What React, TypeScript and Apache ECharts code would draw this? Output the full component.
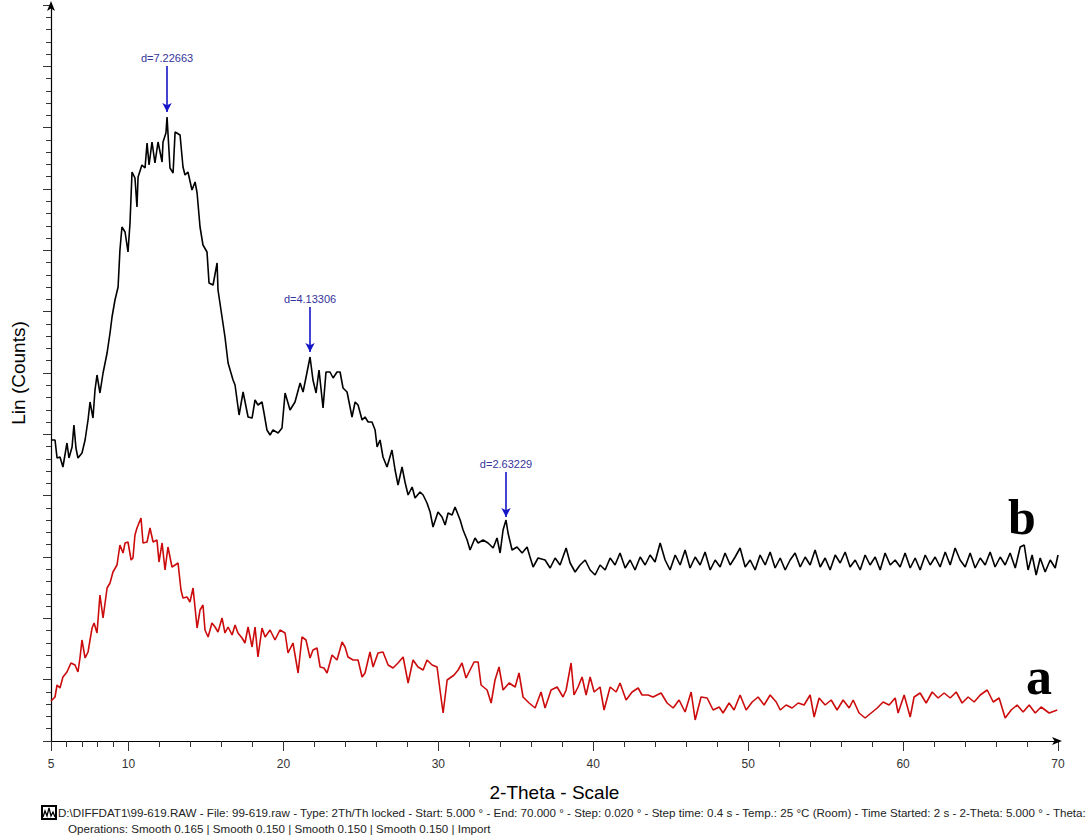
import React, { useEffect, useRef } from "react";
import * as echarts from "echarts";

// 2-Theta tick labels and tick positions
const xLabelValues = [5, 10, 20, 30, 40, 50, 60, 70];
const xMajorTicks = [5, 10, 20, 30, 40, 50, 60, 70];
const xMinorTicks = [6, 7, 8, 9, 12, 14, 16, 18, 22, 24, 26, 28, 32, 34, 36, 38, 42, 44, 46, 48, 52, 54, 56, 58, 62, 64, 66, 68];

// sample b (black) : [2-theta, counts]
const seriesB: [number, number][] = [
  [5.0, 602], [5.26, 602], [5.39, 566], [5.58, 568], [5.77, 548], [6.03, 596], [6.16, 566], [6.36, 588], [6.48, 632],
  [6.61, 586], [6.74, 566], [7.0, 576], [7.2, 602], [7.39, 642], [7.52, 678], [7.71, 646], [7.84, 702],
  [7.97, 732], [8.16, 696], [8.36, 736], [8.62, 776], [8.81, 816], [8.94, 848], [9.13, 882], [9.33, 908],
  [9.45, 982], [9.58, 1028], [9.78, 1018], [9.97, 978], [10.1, 1036], [10.23, 1138], [10.42, 1126],
  [10.55, 1068], [10.62, 1128], [10.87, 1152], [11.07, 1146], [11.2, 1196], [11.33, 1152], [11.52, 1198],
  [11.71, 1156], [11.91, 1198], [12.17, 1158], [12.23, 1198], [12.42, 1216], [12.49, 1248], [12.68, 1146],
  [12.88, 1136], [13.01, 1218], [13.33, 1212], [13.52, 1148], [13.65, 1132], [13.84, 1138], [14.1, 1102],
  [14.3, 1118], [14.43, 1096], [14.62, 1028], [14.81, 992], [15.07, 978], [15.2, 916], [15.46, 912],
  [15.72, 956], [15.78, 902], [16.04, 848], [16.23, 808], [16.43, 756], [16.75, 722], [16.88, 712],
  [17.14, 652], [17.4, 698], [17.72, 648], [17.98, 646], [18.17, 682], [18.36, 672], [18.62, 678],
  [18.75, 656], [18.94, 622], [19.14, 612], [19.33, 622], [19.66, 616], [19.91, 626], [20.11, 696],
  [20.43, 662], [20.75, 678], [21.08, 716], [21.27, 698], [21.53, 738], [21.72, 768], [21.91, 722],
  [22.11, 696], [22.3, 742], [22.56, 666], [22.75, 738], [23.01, 738], [23.21, 726], [23.46, 738],
  [23.66, 738], [23.85, 706], [24.11, 698], [24.43, 648], [24.63, 678], [24.82, 672], [25.08, 642],
  [25.27, 648], [25.47, 638], [25.72, 638], [25.92, 622], [26.05, 588], [26.24, 602], [26.43, 568],
  [26.69, 548], [27.01, 582], [27.21, 542], [27.4, 512], [27.66, 548], [27.85, 518], [28.05, 492],
  [28.31, 508], [28.5, 486], [28.82, 498], [29.02, 492], [29.27, 476], [29.47, 458], [29.66, 428],
  [29.98, 458], [30.24, 448], [30.44, 432], [30.63, 456], [30.89, 452], [31.08, 468], [31.41, 442],
  [31.6, 422], [31.86, 402], [32.05, 382], [32.37, 406], [32.57, 396], [32.89, 402], [33.21, 396],
  [33.54, 386], [33.79, 406], [33.99, 376], [34.18, 422], [34.37, 442], [34.5, 416], [34.76, 382],
  [35.08, 388], [35.41, 376], [35.73, 388], [35.92, 368], [36.12, 348], [36.44, 366], [36.89, 362],
  [37.22, 346], [37.54, 366], [37.86, 352], [38.25, 386], [38.51, 356], [38.83, 338], [39.15, 352],
  [39.48, 362], [39.8, 342], [40.12, 332], [40.44, 352], [40.77, 342], [41.09, 366], [41.41, 352],
  [41.73, 376], [42.06, 346], [42.38, 362], [42.7, 342], [43.03, 368], [43.35, 352], [43.67, 372],
  [43.99, 358], [44.32, 396], [44.64, 362], [44.96, 342], [45.29, 372], [45.61, 352], [45.93, 382],
  [46.25, 346], [46.58, 368], [46.9, 352], [47.22, 378], [47.55, 342], [47.87, 362], [48.19, 348],
  [48.51, 376], [48.84, 352], [49.16, 368], [49.48, 386], [49.81, 348], [50.13, 362], [50.45, 342],
  [50.77, 372], [51.1, 352], [51.42, 378], [51.74, 346], [52.07, 366], [52.39, 342], [52.71, 362],
  [53.03, 376], [53.36, 348], [53.68, 368], [54.0, 352], [54.32, 382], [54.65, 348], [54.97, 366],
  [55.29, 342], [55.62, 372], [55.94, 356], [56.26, 378], [56.58, 348], [56.91, 362], [57.23, 342],
  [57.55, 372], [57.87, 352], [58.2, 368], [58.52, 342], [58.84, 376], [59.17, 352], [59.49, 362],
  [59.81, 348], [60.13, 376], [60.46, 346], [60.78, 366], [61.1, 342], [61.43, 372], [61.75, 352],
  [62.07, 368], [62.39, 348], [62.72, 378], [63.04, 352], [63.36, 386], [63.68, 362], [64.01, 348],
  [64.33, 376], [64.65, 346], [64.98, 366], [65.3, 352], [65.62, 378], [65.94, 348], [66.27, 368],
  [66.59, 352], [66.91, 376], [67.24, 346], [67.56, 388], [67.82, 392], [68.07, 342], [68.33, 372],
  [68.59, 332], [68.85, 366], [69.17, 338], [69.5, 362], [69.82, 346], [70.0, 372],
];

// sample a (red) : [2-theta, counts]
const seriesA: [number, number][] = [
  [5.0, 80], [5.26, 88], [5.39, 112], [5.58, 106], [5.77, 128], [6.03, 138], [6.29, 156], [6.55, 152], [6.74, 138],
  [6.87, 166], [7.0, 202], [7.2, 166], [7.39, 178], [7.65, 226], [7.78, 236], [7.97, 216], [8.16, 292],
  [8.36, 246], [8.62, 306], [8.81, 316], [9.0, 338], [9.26, 352], [9.45, 392], [9.65, 376], [9.78, 396],
  [9.97, 398], [10.17, 362], [10.29, 366], [10.42, 412], [10.55, 426], [10.81, 446], [10.94, 396],
  [11.2, 398], [11.39, 426], [11.59, 398], [11.84, 402], [11.97, 358], [12.17, 396], [12.36, 342],
  [12.55, 388], [12.81, 348], [13.01, 352], [13.2, 356], [13.39, 302], [13.52, 286], [13.78, 288],
  [13.97, 278], [14.17, 306], [14.43, 226], [14.62, 262], [14.81, 272], [14.94, 222], [15.14, 208],
  [15.39, 236], [15.59, 228], [15.78, 218], [16.04, 246], [16.23, 216], [16.43, 228], [16.69, 212],
  [16.88, 232], [17.07, 216], [17.33, 206], [17.52, 196], [17.72, 228], [17.98, 188], [18.17, 228],
  [18.36, 168], [18.62, 226], [18.82, 208], [19.14, 222], [19.46, 202], [19.78, 222], [20.11, 216],
  [20.3, 176], [20.62, 196], [20.95, 136], [21.2, 208], [21.46, 202], [21.72, 166], [21.91, 182],
  [22.17, 186], [22.37, 148], [22.62, 146], [22.82, 136], [23.14, 172], [23.46, 162], [23.79, 198],
  [23.98, 188], [24.17, 168], [24.5, 162], [24.82, 162], [25.08, 128], [25.27, 136], [25.59, 178],
  [25.79, 148], [26.11, 176], [26.43, 178], [26.76, 152], [27.08, 146], [27.4, 156], [27.73, 168],
  [28.05, 116], [28.37, 162], [28.69, 148], [29.02, 142], [29.27, 162], [29.6, 152], [29.92, 148],
  [30.11, 102], [30.31, 56], [30.57, 122], [31.02, 132], [31.28, 142], [31.53, 156], [31.79, 126],
  [32.05, 142], [32.31, 158], [32.57, 158], [32.76, 112], [33.15, 102], [33.41, 76], [33.66, 122],
  [33.92, 148], [34.18, 102], [34.57, 116], [34.96, 108], [35.21, 136], [35.47, 88], [35.86, 76],
  [36.25, 66], [36.63, 98], [36.89, 66], [37.28, 102], [37.67, 108], [38.05, 88], [38.25, 102],
  [38.57, 156], [38.76, 92], [39.02, 108], [39.28, 128], [39.54, 92], [39.8, 128], [40.06, 98],
  [40.44, 108], [40.7, 62], [41.09, 108], [41.48, 98], [41.73, 116], [42.12, 82], [42.51, 98],
  [42.9, 106], [43.15, 92], [43.54, 92], [43.86, 88], [44.38, 96], [44.77, 76], [45.16, 66],
  [45.54, 82], [45.93, 58], [46.32, 98], [46.58, 42], [46.96, 88], [47.35, 86], [47.74, 62],
  [48.13, 68], [48.38, 56], [48.77, 76], [49.09, 62], [49.48, 92], [49.87, 62], [50.26, 78],
  [50.64, 88], [51.03, 72], [51.42, 92], [51.81, 78], [52.07, 62], [52.45, 72], [52.84, 66],
  [53.23, 76], [53.61, 72], [54.0, 92], [54.26, 48], [54.58, 86], [54.97, 72], [55.36, 82],
  [55.74, 62], [56.13, 82], [56.52, 66], [56.78, 82], [57.16, 56], [57.55, 46], [57.94, 56],
  [58.33, 66], [58.71, 78], [59.1, 72], [59.49, 86], [59.68, 56], [60.07, 92], [60.46, 48],
  [60.71, 88], [61.1, 96], [61.49, 76], [61.88, 98], [62.26, 86], [62.65, 96], [63.04, 86],
  [63.43, 98], [63.81, 76], [64.2, 88], [64.59, 78], [64.98, 92], [65.43, 102], [65.82, 78],
  [66.2, 86], [66.59, 46], [66.98, 62], [67.36, 72], [67.75, 58], [68.14, 72], [68.53, 56],
  [68.91, 68], [69.43, 56], [69.95, 62],
];

// d-spacing annotations on sample b
const peakTheta = [12.49, 21.72, 34.37];
const peakLabels = ["d=7.22663", "d=4.13306", "d=2.63229"];
const arrowTop = [1350, 868, 538];
const arrowTip = [1258, 778, 448];

const infoLine1 =
  "D:\\DIFFDAT1\\99-619.RAW - File: 99-619.raw - Type: 2Th/Th locked - Start: 5.000 ° - End: 70.000 ° - Step: 0.020 ° - Step time: 0.4 s - Temp.: 25 °C (Room) - Time Started: 2 s - 2-Theta: 5.000 ° - Theta:";
const infoLine2 = "Operations: Smooth 0.165 | Smooth 0.150 | Smooth 0.150 | Smooth 0.150 | Import";

export default function App() {
  const ref = useRef<HTMLDivElement>(null);
  useEffect(() => {
    if (!ref.current) return;
    const chart = echarts.init(ref.current, undefined, { renderer: "svg" });
    const sans = "'Liberation Sans', Arial, sans-serif";
    const yMax = 1472;
    const option: any = {
      animation: false,
      backgroundColor: "#ffffff",
      grid: { left: 51, right: 34, top: 5, bottom: 99, containLabel: false, outerBoundsMode: "none" },
      xAxis: [
        {
          type: "value",
          min: 5,
          max: 70,
          position: "bottom",
          name: "2-Theta - Scale",
          nameLocation: "middle",
          nameGap: 42,
          nameMoveOverlap: false,
          nameTextStyle: { fontFamily: sans, fontSize: 19, color: "#000" },
          axisLine: { show: true, lineStyle: { color: "#000", width: 1.2 }, symbol: ["none", "arrow"], symbolSize: [6, 10], symbolOffset: [0, 4] },
          axisTick: { show: true, customValues: xMajorTicks, length: 10, lineStyle: { color: "#333", width: 1 } },
          axisLabel: { show: true, customValues: xLabelValues, margin: 17, fontFamily: sans, fontSize: 12, color: "#333" },
          splitLine: { show: false },
        },
        {
          type: "value",
          min: 5,
          max: 70,
          position: "bottom",
          offset: 0,
          axisLine: { show: false },
          axisTick: { show: true, customValues: xMinorTicks, length: 6, lineStyle: { color: "#333", width: 1 } },
          axisLabel: { show: false },
          splitLine: { show: false },
        },
      ],
      yAxis: {
        type: "value",
        min: 0,
        max: yMax,
        interval: yMax / 12,
        name: "Lin (Counts)",
        nameLocation: "middle",
        nameGap: 23,
        nameMoveOverlap: false,
        nameTextStyle: { fontFamily: sans, fontSize: 19, color: "#000" },
        axisLine: { show: true, lineStyle: { color: "#000", width: 1.2 }, symbol: ["none", "arrow"], symbolSize: [6, 10], symbolOffset: [0, 4] },
        axisTick: { show: true, length: 8, lineStyle: { color: "#333" } },
        minorTick: { show: true, splitNumber: 5, length: 5, lineStyle: { color: "#333" } },
        axisLabel: { show: false },
        splitLine: { show: false },
      },
      series: [
        {
          name: "b",
          type: "line",
          data: seriesB,
          showSymbol: false,
          lineStyle: { color: "#000", width: 1.6 },
          z: 3,
          markLine: {
            silent: true,
            symbol: ["none", "arrow"],
            symbolSize: [7, 9],
            lineStyle: { color: "#1515c8", width: 1.6, type: "solid" },
            label: {
              show: true,
              position: "start",
              formatter: "{b}",
              distance: 3,
              color: "#34349a",
              fontFamily: sans,
              fontSize: 11,
            },
            data: peakTheta.map((t, i) => [
              { coord: [t, arrowTop[i]], name: peakLabels[i] },
              { coord: [t, arrowTip[i]] },
            ]),
          },
        },
        {
          name: "a",
          type: "line",
          data: seriesA,
          showSymbol: false,
          lineStyle: { color: "#cc0c0c", width: 1.6 },
          z: 2,
        },
      ],
      graphic: [
        {
          type: "text",
          left: 1008,
          top: 492,
          style: { text: "b", fontFamily: "'Liberation Serif', 'Times New Roman', serif", fontWeight: "bold", fontSize: 50, fill: "#000" },
        },
        {
          type: "text",
          left: 1026,
          top: 650,
          style: { text: "a", fontFamily: "'Liberation Serif', 'Times New Roman', serif", fontWeight: "bold", fontSize: 52, fill: "#000" },
        },
        {
          type: "rect",
          shape: { x: 42, y: 806, width: 14, height: 13 },
          style: { fill: "#fff", stroke: "#000", lineWidth: 2 },
        },
        {
          type: "polyline",
          shape: { points: [[43, 817], [45, 811], [47, 816], [49, 808], [51, 816], [53, 812], [55, 817]] },
          style: { stroke: "#000", lineWidth: 1.3, fill: "none" },
        },
        {
          type: "text",
          left: 58,
          top: 806,
          style: { text: infoLine1, fontFamily: sans, fontSize: 11.6, fill: "#222" },
        },
        {
          type: "text",
          left: 68,
          top: 822,
          style: { text: infoLine2, fontFamily: sans, fontSize: 11.6, fill: "#222" },
        },
      ],
    };
    chart.setOption(option);
    return () => chart.dispose();
  }, []);
  return (
    <div
      ref={ref}
      style={{ position: "fixed", left: 0, top: 0, width: 1092, height: 840, overflow: "hidden", background: "#fff" }}
    />
  );
}
